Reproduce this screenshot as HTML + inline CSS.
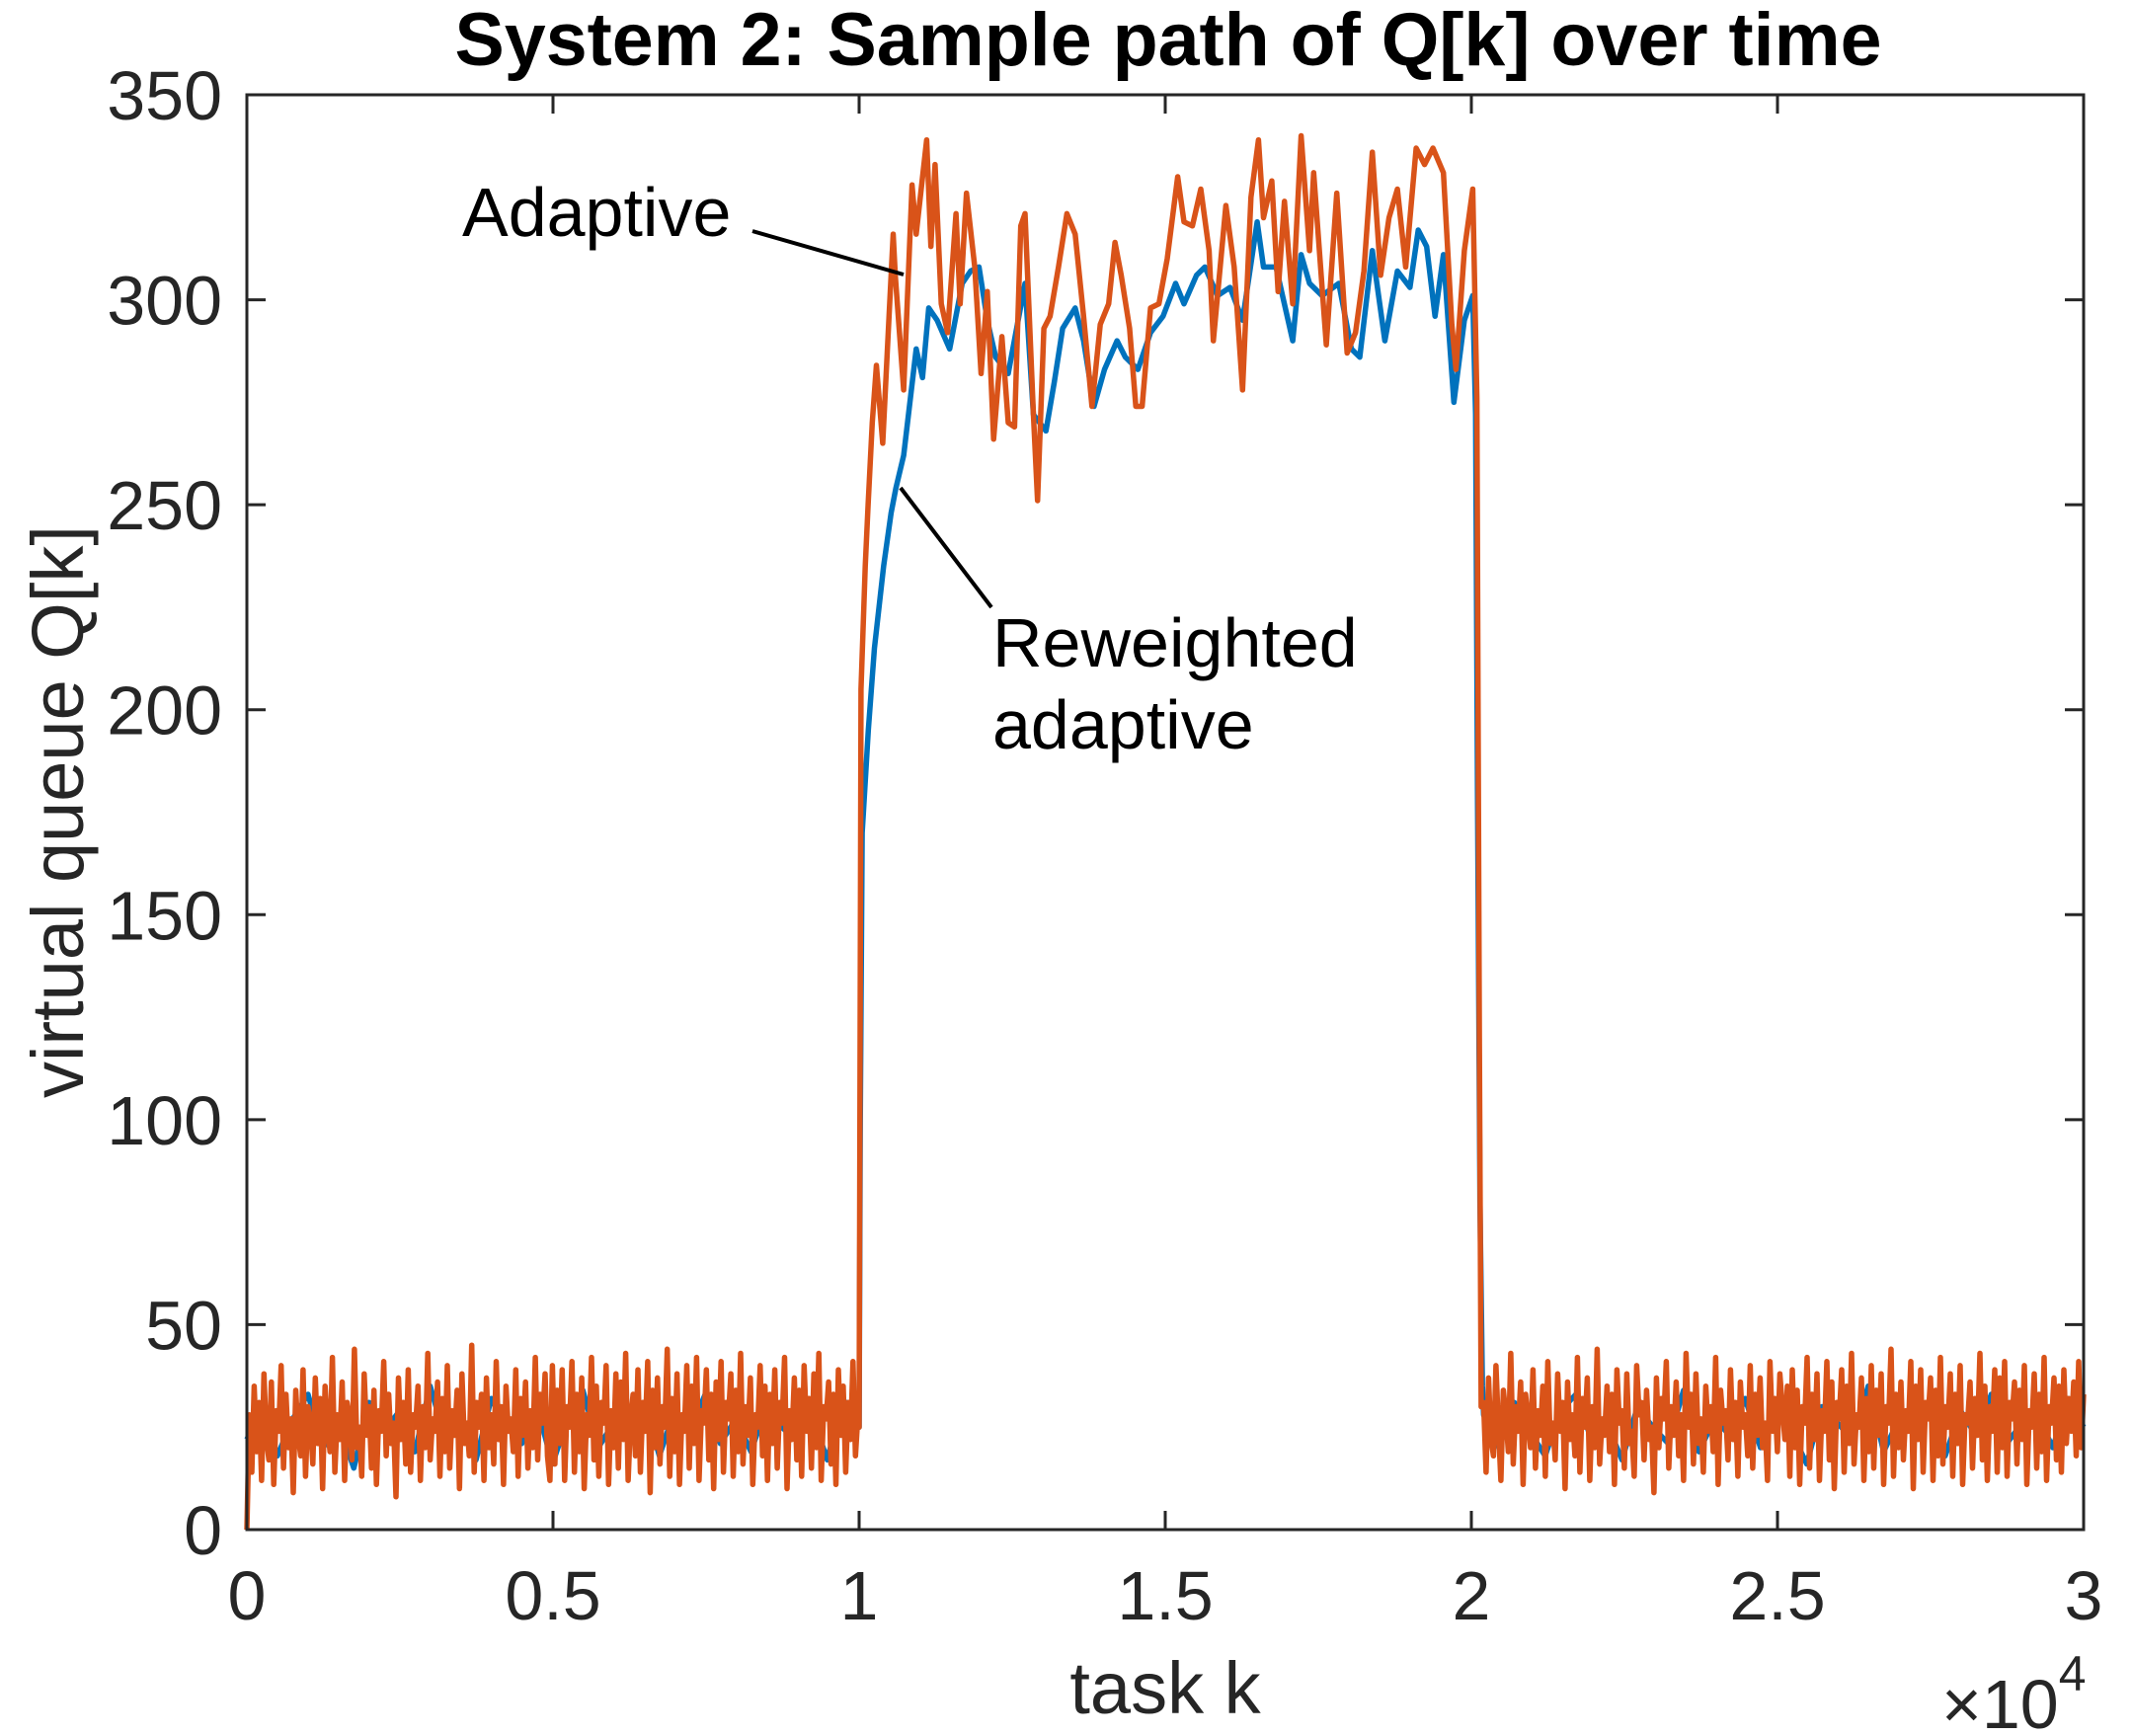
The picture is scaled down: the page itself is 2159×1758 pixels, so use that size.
<!DOCTYPE html>
<html><head><meta charset="utf-8"><style>
html,body{margin:0;padding:0;background:#fff;}
svg{display:block;font-family:"Liberation Sans",Arial,sans-serif;}
</style></head><body>
<svg id="chart" width="2159" height="1758" viewBox="0 0 2159 1758" xmlns="http://www.w3.org/2000/svg">
<rect x="0" y="0" width="2159" height="1758" fill="#fff"/>
<g id="series"></g>
<g id="axes"></g>
<text x="1183" y="66" font-size="76" font-weight="bold" text-anchor="middle" fill="#000" textLength="1445" lengthAdjust="spacingAndGlyphs">System 2: Sample path of Q[k] over time</text>
<text x="1180" y="1735" font-size="74" text-anchor="middle" fill="#262626">task k</text>
<text transform="translate(84,822) rotate(-90)" font-size="74" text-anchor="middle" fill="#262626">virtual queue Q[k]</text>
<text x="1966" y="1750" font-size="70" fill="#262626">×10<tspan font-size="50" dy="-38">4</tspan></text>
<text x="468" y="239" font-size="70" fill="#000">Adaptive</text>
<line x1="762" y1="234" x2="915" y2="278" stroke="#000" stroke-width="4"/>
<text x="1005" y="675" font-size="70" fill="#000">Reweighted</text>
<text x="1005" y="758" font-size="70" fill="#000">adaptive</text>
<line x1="1004" y1="615" x2="912" y2="494" stroke="#000" stroke-width="4"/>
</svg>
<script>
const xTicks=[0,0.5,1,1.5,2,2.5,3];
const xTickLabels=["0","0.5","1","1.5","2","2.5","3"];
const yTicks=[0,50,100,150,200,250,300,350];
const yTickLabels=["0","50","100","150","200","250","300","350"];

const orangeNoiseA=[0,28,14,35,19,31,12,38,22,17,36,11,29,24,40,15,33,20,27,9,34,23,18,39,13,30,26,16,37,21,32,10,35,25,19,42,14,28,22,36,12,31,27,17,44,20,25,13,38,23,30,15,34,11,29,24,41,18,33,21,26,8,37,22,31,16,39,14,28,25,35,12,30,20,43,17,27,24,36,13,32,19,40,15,29,23,34,10,38,21,26,18,45,14,31,25,33,12,37,20,28,16,41,22,30,11,35,24,27,19,39,13,32,23,36,15,29,20,42,17,33,26,38,18,12,40,
 16,34,21,39,12,30,25,41,14,33,19,37,10,28,23,42,17,35,13,31,26,40,11,29,20,38,15,36,22,43,12,27,33,18,39,14,31,24,41,9,34,20,37,16,30,25,44,13,32,19,38,11,28,24,40,15,35,21,42,12,29,26,39,17,33,10,36,22,41,14,31,27,38,13,34,19,43,16,30,23,37,11,28,25,40,18,35,12,33,21,39,15,31,26,42,10,29,22,37,17,34,13,40,24,32,15,38,20,43,12,30,27,36,16,33,11,39,23,35,14,31,22,41,18,28];
const orangeMidTasks=[10000,10030,10100,10147,10215,10283,10386,10488,10557,10591,10727,10864,10932,11103,11172,11240,11342,11445,11582,11650,11753,11889,11992,12094,12197,12333,12436,12538,12641,12709,12846,12914,13017,13119,13256,13393,13529,13666,13803,13939,14076,14179,14281,14418,14520,14623,14759,14896,15033,15204,15306,15443,15580,15716,15785,15990,16126,16263,16400,16523,16605,16741,16844,16946,17083,17220,17356,17425,17630,17801,17971,18108,18245,18382,18518,18655,18792,18928,19099,19236,19372,19543,19680,19748,19885,20022,20090,20130,20160];
const orangeMidValues=[25,205,235,250,270,284,265,296,316,306,278,328,316,339,313,333,299,292,321,299,326,308,282,302,266,291,270,269,318,321,272,251,293,296,308,321,316,296,274,294,299,314,306,293,274,274,298,299,310,330,319,318,327,312,290,323,308,278,325,339,320,329,302,324,299,340,312,331,289,326,287,292,307,336,306,320,327,308,337,333,337,331,294,283,312,327,276,120,30];
const orangeNoiseB=[31,14,37,22,18,40,25,12,34,28,19,43,16,30,24,36,11,33,27,20,39,15,29,23,35,13,41,21,26,17,38,24,31,10,36,22,28,18,42,14,32,25,37,12,30,20,44,16,27,23,35,19,33,11,39,26,29,15,38,21,24,13,40,28,31,17,34,22,25,9,37,20,32,27,41,15,30,23,36,18,28,12,43,25,33,16,38,21,27,14,35,24,30,19,42,11,34,26,29,17,39,22,31,13,36,25,28,18,40,15,33,23,37,20,26,12,41,24,32,19,38,30,22,35,
 13,39,20,34,11,30,26,42,15,33,22,38,12,29,24,41,17,36,10,31,27,39,14,35,21,43,16,28,25,37,12,32,19,40,15,34,23,38,11,30,26,44,13,33,20,36,17,29,24,41,10,35,22,39,14,31,27,37,12,34,18,42,16,30,25,38,13,33,21,40,11,28,26,36,15,32,23,43,17,35,12,30,24,39,14,37,20,41,13,31,27,36,16,34,22,40,11,29,25,38,15,33,19,42,12,30,26,37,17,35,14,39,21,32,24,36,18,41,20,33];

const blueNoiseA=[22,30,18,27,33,20,26,15,31,24,29,19,35,22,28,17,32,25,21,30,16,27,34,20,26,23,31,18,29,24,33,21,27,19,30,25,22,28,17,32,26];
const blueMidTasks=[10000,10020,10050,10150,10250,10400,10522,10600,10727,10932,11035,11137,11274,11479,11684,11821,11958,12094,12231,12436,12709,12846,13051,13188,13324,13529,13666,13837,14008,14213,14349,14554,14759,14964,15169,15306,15511,15648,15853,16058,16263,16502,16605,16810,17083,17220,17356,17562,17835,18040,18177,18382,18587,18792,18997,19133,19270,19407,19543,19714,19885,20022,20070,20100,20140,20180];
const blueMidValues=[25,100,170,195,215,235,248,254,262,288,281,298,295,288,304,307,308,295,286,282,304,272,268,280,293,298,290,274,283,290,286,283,292,296,304,299,306,308,301,303,295,319,308,308,290,311,304,301,304,288,286,312,290,307,303,317,313,296,311,275,295,301,272,180,80,35];
const blueNoiseB=[28,20,31,24,18,29,33,22,26,17,30,25,21,34,19,27,23,32,20,28,24,16,30,26,22,35,19,27,25,31,18,29,23,33,21,26,28,20,32,25];

const noiseASpan=[0,9980];
const noiseBSpan=[20200,30000];

const L=250,R=2110,T=96,B=1549;
const XMAX=30000,YMAX=350;
function xs(t){return L+(t/XMAX)*(R-L);}
function ys(v){return B-(v/YMAX)*(B-T);}
const NS="http://www.w3.org/2000/svg";

function buildPts(noiseA,midT,midV,noiseB){
  const pts=[];
  noiseA.forEach((v,i)=>{const t=noiseASpan[0]+i*(noiseASpan[1]-noiseASpan[0])/(noiseA.length-1);pts.push([xs(t),ys(v)]);});
  midT.forEach((t,i)=>pts.push([xs(t),ys(midV[i])]));
  noiseB.forEach((v,i)=>{const t=noiseBSpan[0]+i*(noiseBSpan[1]-noiseBSpan[0])/(noiseB.length-1);pts.push([xs(t),ys(v)]);});
  return pts.map(p=>p[0].toFixed(1)+","+p[1].toFixed(1)).join(" ");
}
const series=document.getElementById('series');
const blue=document.createElementNS(NS,'polyline');
blue.setAttribute('points',buildPts(blueNoiseA,blueMidTasks,blueMidValues,blueNoiseB));
blue.setAttribute('fill','none');blue.setAttribute('stroke','#0072BD');blue.setAttribute('stroke-width','5.5');blue.setAttribute('stroke-linejoin','round');


series.appendChild(blue);
const orange=document.createElementNS(NS,'polyline');
orange.setAttribute('points',buildPts(orangeNoiseA,orangeMidTasks,orangeMidValues,orangeNoiseB));
orange.setAttribute('fill','none');orange.setAttribute('stroke','#D95319');orange.setAttribute('stroke-width','5.5');orange.setAttribute('stroke-linejoin','round');


series.appendChild(orange);

const axes=document.getElementById('axes');
function mk(tag,attrs){const e=document.createElementNS(NS,tag);for(const k in attrs)e.setAttribute(k,attrs[k]);axes.appendChild(e);return e;}
const box=mk('rect',{x:L,y:T,width:R-L,height:B-T,fill:'none',stroke:'#262626','stroke-width':3});


xTicks.forEach((v,i)=>{
  const x=xs(v*10000);
  const t1=mk('line',{x1:x,y1:B,x2:x,y2:B-19,stroke:'#262626','stroke-width':3});
  
  
  const t2=mk('line',{x1:x,y1:T,x2:x,y2:T+19,stroke:'#262626','stroke-width':3});
  
  
  const lb=mk('text',{x:x,y:1640,'font-size':70,'text-anchor':'middle',fill:'#262626'});
  lb.textContent=xTickLabels[i];
  
  
});
yTicks.forEach((v,i)=>{
  const y=ys(v);
  const t1=mk('line',{x1:L,y1:y,x2:L+19,y2:y,stroke:'#262626','stroke-width':3});
  
  
  const t2=mk('line',{x1:R,y1:y,x2:R-19,y2:y,stroke:'#262626','stroke-width':3});
  
  
  const lb=mk('text',{x:225,y:y+25,'font-size':70,'text-anchor':'end',fill:'#262626'});
  lb.textContent=yTickLabels[i];
  
  
});
</script>
</body></html>
